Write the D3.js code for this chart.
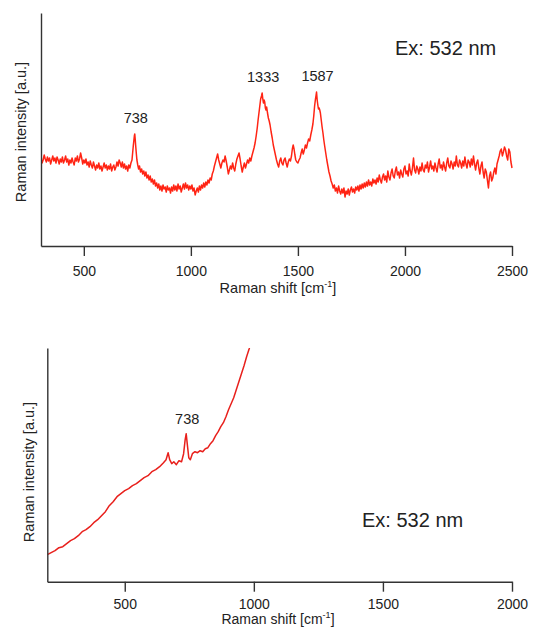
<!DOCTYPE html>
<html>
<head>
<meta charset="utf-8">
<script src="https://cdn.jsdelivr.net/npm/d3@7"></script>
<style>
  body { margin: 0; background: #fff; }
  text { font-family: "Liberation Sans", Arial, sans-serif; fill: #222; }
</style>
</head>
<body>
<div id="root"></div>
<script>
// Top spectrum: [Raman shift (cm-1), intensity (a.u.)]
const spectrumTop = [
  [300, 89], [305, 83], [310, 86], [315, 91], [320, 87], [325, 84], [330, 89], [335, 85], [340, 88], [345, 82],
  [350, 86], [355, 90], [360, 85], [365, 88], [370, 83], [375, 89], [380, 86], [385, 82], [390, 87], [395, 84],
  [400, 89], [405, 83], [410, 86], [415, 90], [420, 84], [425, 87], [430, 81], [435, 86], [440, 83], [445, 88],
  [450, 84], [455, 81], [460, 88], [465, 85], [470, 90], [475, 84], [480, 87], [485, 93], [490, 88], [495, 82],
  [500, 86], [505, 83], [510, 87], [515, 81], [520, 84], [525, 79], [530, 85], [535, 81], [540, 78], [545, 84],
  [550, 80], [555, 76], [560, 81], [565, 78], [570, 83], [575, 77], [580, 80], [585, 75], [590, 79], [595, 83],
  [600, 78], [605, 81], [610, 76], [615, 80], [620, 77], [625, 82], [630, 75], [635, 79], [640, 81], [645, 76],
  [650, 79], [655, 84], [660, 80], [665, 86], [670, 83], [675, 79], [680, 84], [685, 78], [690, 82], [695, 77],
  [700, 80], [705, 75], [710, 81], [715, 78], [720, 83], [725, 86], [728, 93], [731, 100], [734, 106], [736, 110],
  [738, 112], [740, 107], [742, 101], [745, 93], [748, 86], [752, 81], [756, 77], [760, 80], [765, 74], [770, 77],
  [775, 72], [780, 75], [785, 70], [790, 74], [795, 68], [800, 71], [805, 66], [810, 70], [815, 64], [820, 67],
  [825, 62], [830, 66], [835, 60], [840, 63], [845, 58], [850, 62], [855, 56], [860, 60], [865, 55], [870, 61],
  [875, 57], [880, 59], [885, 54], [890, 60], [895, 56], [900, 58], [905, 53], [910, 59], [915, 55], [920, 61],
  [925, 56], [930, 60], [935, 55], [940, 62], [945, 57], [950, 60], [955, 54], [960, 58], [965, 62], [970, 57],
  [975, 63], [980, 58], [985, 61], [990, 56], [995, 60], [1000, 57], [1005, 61], [1010, 55], [1015, 58], [1020, 51],
  [1025, 55], [1030, 58], [1035, 54], [1040, 60], [1045, 56], [1050, 61], [1055, 58], [1060, 63], [1065, 59], [1070, 64],
  [1075, 61], [1080, 66], [1085, 63], [1090, 68], [1095, 66], [1100, 72], [1105, 75], [1110, 80], [1115, 84], [1120, 88],
  [1125, 92], [1130, 86], [1135, 82], [1140, 78], [1145, 83], [1150, 86], [1155, 84], [1160, 90], [1165, 85], [1170, 79],
  [1175, 72], [1180, 76], [1185, 80], [1190, 77], [1195, 83], [1200, 78], [1205, 75], [1210, 82], [1215, 87], [1220, 90],
  [1225, 93], [1230, 87], [1235, 80], [1240, 74], [1245, 79], [1250, 83], [1255, 78], [1260, 82], [1265, 86], [1270, 83],
  [1275, 88], [1280, 85], [1285, 90], [1290, 94], [1295, 98], [1300, 103], [1305, 110], [1310, 118], [1314, 126], [1318, 133],
  [1322, 140], [1326, 147], [1330, 150], [1333, 153], [1336, 147], [1339, 143], [1342, 146], [1345, 144], [1348, 138], [1351, 136],
  [1354, 139], [1358, 133], [1362, 128], [1366, 125], [1370, 121], [1375, 114], [1380, 108], [1385, 101], [1390, 96], [1395, 91],
  [1400, 86], [1405, 82], [1410, 79], [1415, 85], [1420, 88], [1425, 83], [1430, 81], [1435, 86], [1440, 88], [1445, 83],
  [1450, 79], [1455, 84], [1460, 87], [1465, 85], [1470, 90], [1474, 97], [1478, 101], [1482, 97], [1486, 91], [1490, 86],
  [1495, 84], [1500, 83], [1505, 86], [1510, 88], [1515, 93], [1520, 97], [1525, 92], [1530, 96], [1535, 101], [1540, 98],
  [1545, 103], [1550, 107], [1555, 105], [1560, 111], [1565, 116], [1570, 122], [1574, 130], [1578, 140], [1582, 147], [1585, 151],
  [1587, 154], [1590, 146], [1593, 141], [1596, 137], [1599, 138], [1602, 136], [1605, 133], [1609, 126], [1613, 119], [1617, 113],
  [1621, 106], [1625, 100], [1630, 93], [1635, 86], [1640, 80], [1645, 74], [1650, 70], [1655, 65], [1660, 62], [1665, 58],
  [1670, 61], [1675, 55], [1680, 58], [1685, 53], [1690, 60], [1695, 55], [1700, 52], [1705, 57], [1710, 53], [1715, 58],
  [1720, 49], [1725, 55], [1730, 52], [1735, 57], [1740, 51], [1745, 56], [1750, 59], [1755, 54], [1760, 57], [1765, 53],
  [1770, 59], [1775, 56], [1780, 60], [1785, 55], [1790, 61], [1795, 57], [1800, 62], [1805, 58], [1810, 63], [1815, 59],
  [1820, 64], [1825, 60], [1830, 66], [1835, 61], [1840, 64], [1845, 60], [1850, 67], [1855, 63], [1860, 66], [1865, 62],
  [1870, 68], [1875, 64], [1880, 71], [1885, 66], [1890, 63], [1895, 69], [1900, 72], [1905, 66], [1910, 70], [1915, 64],
  [1920, 75], [1925, 69], [1930, 66], [1935, 73], [1940, 77], [1945, 70], [1950, 68], [1955, 75], [1960, 79], [1965, 71],
  [1970, 74], [1975, 68], [1980, 76], [1985, 72], [1990, 69], [1995, 77], [2000, 80], [2005, 72], [2010, 75], [2015, 70],
  [2020, 82], [2025, 75], [2030, 71], [2035, 78], [2040, 88], [2045, 76], [2050, 73], [2055, 80], [2060, 77], [2065, 72],
  [2070, 79], [2075, 75], [2080, 83], [2085, 76], [2090, 74], [2095, 81], [2100, 78], [2105, 84], [2110, 74], [2115, 79],
  [2120, 85], [2125, 77], [2130, 80], [2135, 75], [2140, 83], [2145, 78], [2150, 74], [2155, 82], [2160, 87], [2165, 78],
  [2170, 81], [2175, 76], [2180, 84], [2185, 79], [2190, 75], [2195, 83], [2200, 88], [2205, 80], [2210, 78], [2215, 85],
  [2220, 82], [2225, 77], [2230, 84], [2235, 80], [2240, 90], [2245, 81], [2250, 79], [2255, 86], [2260, 83], [2265, 78],
  [2270, 85], [2275, 80], [2280, 89], [2285, 82], [2290, 78], [2295, 86], [2300, 84], [2305, 79], [2310, 87], [2315, 81],
  [2320, 90], [2325, 82], [2330, 76], [2335, 83], [2340, 86], [2345, 78], [2350, 72], [2355, 80], [2360, 84], [2365, 74],
  [2370, 68], [2375, 77], [2380, 74], [2385, 66], [2390, 58], [2395, 70], [2400, 74], [2405, 65], [2410, 68], [2415, 74],
  [2420, 78], [2425, 72], [2430, 82], [2435, 86], [2440, 90], [2445, 95], [2450, 97], [2455, 90], [2460, 94], [2465, 99],
  [2470, 96], [2475, 90], [2480, 86], [2485, 97], [2490, 94], [2495, 84], [2500, 78]
]

// Bottom spectrum: rises out of the frame past ~980 cm-1
const spectrumBottom = [
  [200, 27], [215, 29], [230, 31], [245, 34], [260, 35], [275, 38], [290, 41], [305, 43], [320, 46], [335, 50],
  [350, 52], [365, 55], [380, 59], [395, 62], [410, 66], [425, 70], [440, 76], [455, 80], [470, 85], [485, 88],
  [500, 91], [515, 93], [530, 96], [545, 98], [560, 101], [575, 104], [590, 106], [605, 110], [620, 112], [635, 115],
  [650, 119], [660, 122], [668, 129], [674, 122], [682, 118], [690, 120], [700, 117], [710, 121], [720, 120], [728, 128],
  [734, 142], [738, 148], [742, 138], [748, 124], [754, 122], [762, 128], [772, 130], [782, 129], [792, 131], [802, 130],
  [812, 133], [822, 134], [832, 138], [842, 141], [852, 146], [862, 150], [872, 155], [882, 159], [892, 165], [902, 172],
  [912, 178], [922, 184], [932, 192], [942, 200], [952, 208], [962, 216], [972, 225], [982, 233], [992, 242], [1000, 250]
]

const ticksTop = [500, 1000, 1500, 2000, 2500]
const ticksBottom = [500, 1000, 1500, 2000]
const peaksTop = [738, 1333, 1587]
const peaksBottom = [738]

const width = 533
const height = 627

const svg = d3.select("#root").append("svg")
  .attr("width", width)
  .attr("height", height)

// One panel = frame + axes + spectrum + labels
function drawPanel(cfg) {
  const x = d3.scaleLinear().domain(cfg.xDomain).range([cfg.left, cfg.right])
  const y = d3.scaleLinear().domain(cfg.yDomain).range([cfg.bottom, cfg.top])

  const g = svg.append("g")

  const clipId = "clip-" + cfg.name
  g.append("clipPath").attr("id", clipId)
    .append("rect")
    .attr("x", cfg.left).attr("y", cfg.top)
    .attr("width", cfg.right - cfg.left + 6)
    .attr("height", cfg.bottom - cfg.top)

  const line = d3.line()
    .x(d => x(d[0]))
    .y(d => y(d[1]))

  g.append("path")
    .datum(cfg.data)
    .attr("clip-path", `url(#${clipId})`)
    .attr("fill", "none")
    .attr("stroke", cfg.color)
    .attr("stroke-width", cfg.lineWidth)
    .attr("stroke-linejoin", "round")
    .attr("d", line)

  // x axis
  const xAxis = g.append("g")
    .attr("transform", `translate(0,${cfg.bottom})`)
    .call(d3.axisBottom(x).tickValues(cfg.ticks).tickFormat(d3.format("d"))
      .tickSize(10).tickSizeOuter(0).tickPadding(cfg.tickPad))
  xAxis.select(".domain").attr("stroke", "#333").attr("stroke-width", 1.4)
  xAxis.selectAll(".tick line").attr("stroke", "#333").attr("stroke-width", 1.4)
  xAxis.selectAll(".tick text")
    .style("font-family", "'Liberation Sans', Arial, sans-serif")
    .style("font-size", "14px")
    .attr("fill", "#222")

  // y axis: plain line, no ticks
  const yAxis = g.append("g")
    .attr("transform", `translate(${cfg.left},0)`)
    .call(d3.axisLeft(y).tickValues([]).tickSizeOuter(0))
  yAxis.select(".domain").attr("stroke", "#333").attr("stroke-width", 1.4)

  // axis titles
  const xt = g.append("text")
    .attr("x", cfg.xTitleX)
    .attr("y", cfg.xTitleY)
    .attr("text-anchor", "middle")
    .style("font-size", cfg.xTitleSize)
  xt.append("tspan").text("Raman shift [cm")
  xt.append("tspan").attr("dy", -6).style("font-size", "9px").text("-1")
  xt.append("tspan").attr("dy", 6).text("]")

  g.append("text")
    .attr("transform", `translate(${cfg.yTitleX},${cfg.yTitleY}) rotate(-90)`)
    .attr("text-anchor", "middle")
    .style("font-size", "14.5px")
    .text("Raman intensity [a.u.]")

  // excitation note
  g.append("text")
    .attr("x", cfg.noteX)
    .attr("y", cfg.noteY)
    .style("font-size", "20px")
    .text("Ex: 532 nm")

  // peak labels, placed above each peak maximum
  cfg.peaks.forEach(p => {
    const pt = cfg.data.find(d => d[0] === p)
    g.append("text")
      .attr("x", x(p) + 1)
      .attr("y", y(pt[1]) - cfg.peakGap)
      .attr("text-anchor", "middle")
      .style("font-size", "14.5px")
      .text(p)
  })
}

drawPanel({
  name: "top", data: spectrumTop, ticks: ticksTop, peaks: peaksTop,
  xDomain: [300, 2500], yDomain: [0, 233],
  left: 41, right: 512, top: 13, bottom: 246,
  color: "#ff2414", lineWidth: 1.5, peakGap: 11, tickPad: 10,
  xTitleX: 278, xTitleY: 293, xTitleSize: "14.5px", yTitleX: 26, yTitleY: 132,
  noteX: 395, noteY: 55
})

drawPanel({
  name: "bottom", data: spectrumBottom, ticks: ticksBottom, peaks: peaksBottom,
  xDomain: [200, 2000], yDomain: [0, 233.7],
  left: 47.3, right: 512, top: 348, bottom: 581.7,
  color: "#e8201c", lineWidth: 1.5, peakGap: 10, tickPad: 7,
  xTitleX: 278, xTitleY: 623.5, xTitleSize: "14px", yTitleX: 34, yTitleY: 472,
  noteX: 362, noteY: 527
})
</script>
</body>
</html>
